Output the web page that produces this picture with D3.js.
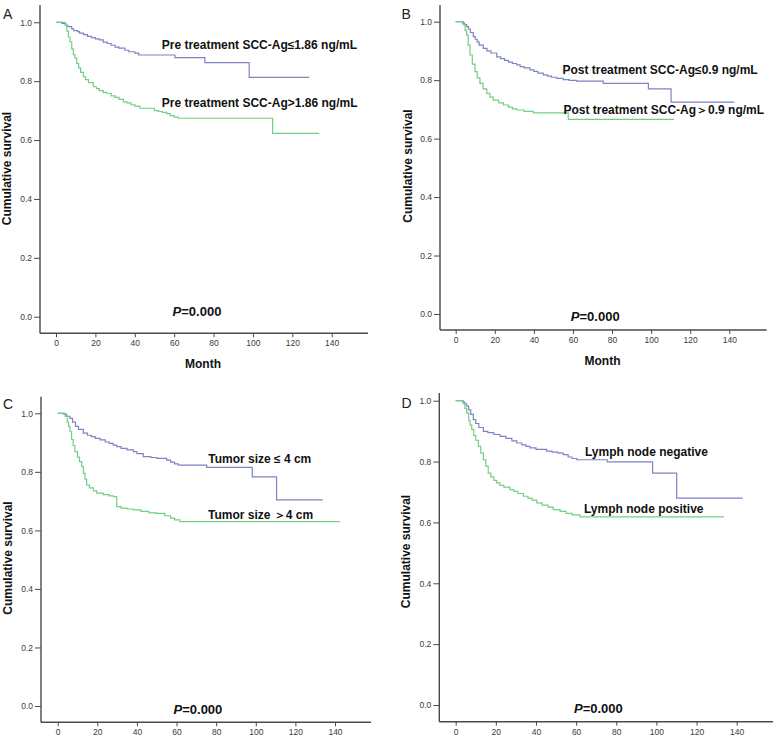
<!DOCTYPE html>
<html>
<head>
<meta charset="utf-8">
<script src="https://cdn.jsdelivr.net/npm/d3@7"></script>
<style>
  html, body { margin: 0; padding: 0; background: #fff; }
  svg { display: block; }
</style>
</head>
<body>
<svg id="chart" width="777" height="742"></svg>
<script>
// ---------------- DATA ----------------
const xTicks = [0, 20, 40, 60, 80, 100, 120, 140];
const yTicks = [0.0, 0.2, 0.4, 0.6, 0.8, 1.0];
const panelLetters = ["A", "B", "C", "D"];
const yAxisTitle = "Cumulative survival";
const xAxisTitle = "Month";
const pText = "=0.000";

// Panel A: pre-treatment SCC-Ag
const aLowLabel = "Pre treatment SCC-Ag≤1.86 ng/mL";
const aHighLabel = "Pre treatment SCC-Ag>1.86 ng/mL";
const aLow = [[0,1.0],[2,1.0],[3,0.996],[5,0.99],[6,0.985],[8,0.978],[9,0.972],[11,0.968],[12,0.963],[14,0.958],[16,0.952],[18,0.948],[20,0.944],[22,0.94],[24,0.933],[26,0.928],[28,0.922],[30,0.916],[32,0.912],[35,0.905],[37,0.9],[40,0.895],[42,0.889],[60.4,0.88],[75.6,0.863],[98.1,0.813],[128.6,0.813]];
const aHigh = [[0,1.0],[4,1.0],[4.6,0.99],[5.5,0.97],[6.3,0.95],[7.1,0.934],[8,0.91],[8.8,0.89],[9.6,0.878],[10.5,0.86],[11.5,0.845],[12.5,0.83],[13.9,0.815],[15,0.805],[16.5,0.795],[18.9,0.781],[20.5,0.775],[22,0.768],[24,0.762],[25.7,0.759],[28,0.75],[30,0.745],[32,0.738],[34.2,0.73],[36,0.726],[38,0.72],[40,0.715],[42.6,0.708],[50,0.70],[52,0.697],[54,0.694],[56.2,0.69],[58,0.683],[60,0.678],[62.1,0.674],[110,0.623],[133.7,0.623]];

// Panel B: post-treatment SCC-Ag
const bLowLabel = "Post treatment SCC-Ag≤0.9 ng/mL";
const bHighLabel = "Post treatment SCC-Ag＞0.9 ng/mL";
const bLow = [[0,1.0],[2.5,1.0],[3.5,0.995],[4.5,0.99],[5.6,0.983],[6.5,0.975],[7.5,0.963],[9,0.949],[10,0.94],[11,0.93],[12,0.92],[14.1,0.909],[16,0.9],[18,0.893],[21,0.88],[23,0.874],[25,0.868],[27,0.862],[29,0.857],[31.2,0.852],[33,0.846],[35,0.842],[38,0.835],[40,0.83],[42,0.824],[44.8,0.818],[47,0.814],[49,0.81],[51.7,0.806],[55,0.802],[58,0.799],[61.9,0.797],[75.5,0.789],[98.6,0.770],[110.2,0.725],[142.6,0.725]];
const bHigh = [[0,1.0],[3,1.0],[3.9,0.99],[4.8,0.97],[5.6,0.954],[6.4,0.92],[7.3,0.886],[8.5,0.855],[9.9,0.829],[11,0.808],[12.4,0.789],[14,0.77],[15.9,0.755],[17.5,0.742],[19.2,0.732],[22,0.722],[24.4,0.715],[27,0.708],[29,0.702],[31.2,0.698],[35,0.693],[39.7,0.688],[57.6,0.666],[111.7,0.666]];

// Panel C: tumor size
const cLowLabel = "Tumor size ≤ 4 cm";
const cHighLabel = "Tumor size ＞4 cm";
const cLow = [[0,1.0],[2,1.0],[3,0.997],[4.5,0.99],[6.2,0.983],[7.5,0.97],[9,0.955],[10.5,0.945],[12.9,0.932],[15,0.925],[17,0.92],[19,0.914],[21.4,0.909],[24,0.902],[26,0.897],[28,0.891],[29.8,0.886],[32,0.88],[35,0.875],[38.2,0.869],[40,0.862],[43.2,0.852],[47,0.849],[50,0.846],[55,0.84],[57,0.833],[59,0.827],[60.9,0.823],[75.2,0.815],[98.2,0.783],[110.5,0.704],[133.8,0.704]];
const cHigh = [[0,1.0],[3,1.0],[3.7,0.99],[4.8,0.97],[5.5,0.955],[6.2,0.937],[7,0.91],[7.8,0.89],[8.7,0.869],[10,0.85],[11,0.835],[12.1,0.818],[13,0.795],[13.8,0.775],[14.6,0.755],[16,0.745],[18,0.735],[19.7,0.727],[23,0.722],[26,0.718],[28.1,0.715],[29.8,0.681],[32,0.676],[35,0.673],[38.2,0.670],[42,0.665],[46,0.66],[50,0.658],[54,0.65],[57,0.642],[59,0.636],[61.7,0.63],[142.5,0.63]];

// Panel D: lymph node status
const dLowLabel = "Lymph node negative";
const dHighLabel = "Lymph node positive";
const dLow = [[0,1.0],[2.5,1.0],[3.5,0.995],[4.5,0.99],[5.5,0.982],[6.5,0.97],[7.5,0.955],[8.8,0.938],[10,0.925],[11.5,0.912],[13.8,0.899],[16,0.895],[19,0.889],[22.1,0.883],[25,0.876],[28,0.868],[30.4,0.861],[33,0.855],[35,0.85],[37,0.845],[40,0.84],[45.3,0.834],[48,0.831],[51,0.828],[53.6,0.823],[56,0.815],[58,0.81],[60.3,0.806],[75.5,0.799],[98.1,0.762],[110.1,0.68],[143,0.68]];
const dHigh = [[0,1.0],[3,1.0],[3.8,0.99],[4.6,0.975],[5.5,0.96],[6.5,0.935],[7.2,0.92],[8,0.905],[9,0.885],[10,0.87],[11.3,0.85],[12.5,0.828],[13.8,0.806],[15,0.785],[16.2,0.762],[17.5,0.75],[19,0.738],[20.4,0.73],[22,0.722],[24,0.716],[27,0.708],[29,0.702],[31,0.695],[33.7,0.686],[36,0.68],[38,0.673],[40.4,0.664],[43,0.657],[46,0.65],[48.6,0.642],[52,0.636],[55,0.63],[58,0.625],[61.9,0.618],[133.7,0.618]];

// ---------------- LAYOUT ----------------
const panels = [
  { letter: panelLetters[0], low: aLow, high: aHigh, lowLabel: aLowLabel, highLabel: aHighLabel,
    x0: 56, x140: 331.7, y1: 22.3, y0: 316.7, left: 40, right: 368, top: 5, bottom: 333.3,
    letterPos: [3, 18.5], yTitlePos: [7, 168.5], monthPos: [203, 364],
    lowLabelAt: [53.7, 0.923], highLabelAt: [53.7, 0.728], pAt: [71.6, 0.017] },
  { letter: panelLetters[1], low: bLow, high: bHigh, lowLabel: bLowLabel, highLabel: bHighLabel,
    x0: 455.7, x140: 729.3, y1: 21.7, y0: 314, left: 440, right: 766.7, top: 5, bottom: 330,
    letterPos: [401.5, 18.5], yTitlePos: [408, 166], monthPos: [602.5, 361],
    lowLabelAt: [54.6, 0.835], highLabelAt: [55.1, 0.698], pAt: [71.4, -0.007] },
  { letter: panelLetters[2], low: cLow, high: cHigh, lowLabel: cLowLabel, highLabel: cHighLabel,
    x0: 57.7, x140: 335, y1: 413.3, y0: 706, left: 41, right: 371, top: 396.7, bottom: 722.3,
    letterPos: [3, 408.5], yTitlePos: [8, 558], monthPos: null,
    lowLabelAt: [76.0, 0.846], highLabelAt: [75.9, 0.653], pAt: [70.8, -0.011] },
  { letter: panelLetters[3], low: dLow, high: dHigh, lowLabel: dLowLabel, highLabel: dHighLabel,
    x0: 455.7, x140: 736.7, y1: 400.7, y0: 705, left: 439.3, right: 773, top: 393, bottom: 721.7,
    letterPos: [401.5, 408], yTitlePos: [406, 551.5], monthPos: null,
    lowLabelAt: [64.4, 0.832], highLabelAt: [63.9, 0.644], pAt: [71.1, -0.01] }
];

const blue = "#7d84c4";
const green = "#72cf82";
const axisColor = "#4a4a4a";
const font = "'Liberation Sans', Arial, sans-serif";

const svg = d3.select("#chart");

panels.forEach(p => {
  const g = svg.append("g");
  const x = d3.scaleLinear().domain([0, 140]).range([p.x0, p.x140]);
  const y = d3.scaleLinear().domain([0, 1]).range([p.y0, p.y1]);

  // axes
  const ya = d3.axisLeft(y).tickValues(yTicks).tickFormat(d3.format(".1f")).tickSize(6).tickPadding(2);
  const yg = g.append("g").attr("transform", `translate(${p.left},0)`).call(ya);
  yg.select(".domain").remove();
  const xa = d3.axisBottom(x).tickValues(xTicks).tickFormat(d3.format("d")).tickSize(4).tickPadding(3);
  const xg = g.append("g").attr("transform", `translate(0,${p.bottom})`).call(xa);
  xg.select(".domain").remove();
  [yg, xg].forEach(ax => {
    ax.selectAll("line").attr("stroke", axisColor).attr("stroke-width", 1);
    ax.selectAll("text").attr("fill", "#3a3a3a").style("font-family", font).style("font-size", "8.5px");
  });
  g.append("line").attr("x1", p.left).attr("x2", p.left).attr("y1", p.top).attr("y2", p.bottom)
    .attr("stroke", axisColor).attr("stroke-width", 1.4);
  g.append("line").attr("x1", p.left).attr("x2", p.right).attr("y1", p.bottom).attr("y2", p.bottom)
    .attr("stroke", axisColor).attr("stroke-width", 1.4);

  // curves
  const line = d3.line().x(d => x(d[0])).y(d => y(d[1])).curve(d3.curveStepAfter);
  g.append("path").datum(p.low).attr("d", line).attr("fill", "none").attr("stroke", blue).attr("stroke-width", 1.2);
  g.append("path").datum(p.high).attr("d", line).attr("fill", "none").attr("stroke", green).attr("stroke-width", 1.2);

  // curve labels
  [[p.lowLabel, p.lowLabelAt], [p.highLabel, p.highLabelAt]].forEach(([t, at]) => {
    g.append("text").attr("x", x(at[0])).attr("y", y(at[1])).attr("dy", "0.36em")
      .style("font-family", font).style("font-size", "12px").style("font-weight", "bold")
      .attr("fill", "#111").text(t);
  });

  // P value
  const pt = g.append("text").attr("x", x(p.pAt[0])).attr("y", y(p.pAt[1])).attr("dy", "0.36em")
    .attr("text-anchor", "middle").style("font-family", font).style("font-size", "13px")
    .style("font-weight", "bold").attr("fill", "#111");
  pt.append("tspan").style("font-style", "italic").text("P");
  pt.append("tspan").text(pText);

  // panel letter
  g.append("text").attr("x", p.letterPos[0]).attr("y", p.letterPos[1])
    .style("font-family", font).style("font-size", "14px").attr("fill", "#222").text(p.letter);

  // y title
  g.append("text").attr("transform", `translate(${p.yTitlePos[0]},${p.yTitlePos[1]}) rotate(-90)`)
    .attr("text-anchor", "middle").attr("dy", "0.36em")
    .style("font-family", font).style("font-size", "12px").style("font-weight", "bold")
    .attr("fill", "#111").text(yAxisTitle);

  // x title
  if (p.monthPos) {
    g.append("text").attr("x", p.monthPos[0]).attr("y", p.monthPos[1])
      .attr("text-anchor", "middle").attr("dy", "0.36em")
      .style("font-family", font).style("font-size", "12px").style("font-weight", "bold")
      .attr("fill", "#111").text(xAxisTitle);
  }
});
</script>
</body>
</html>
